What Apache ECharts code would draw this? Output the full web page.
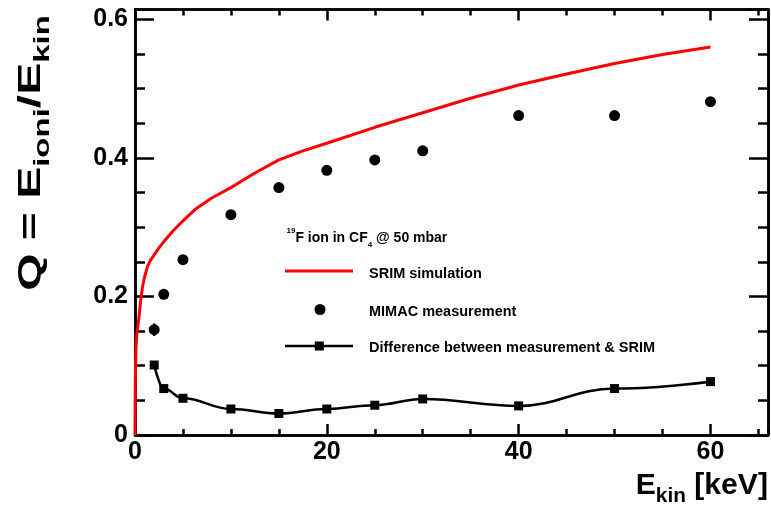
<!DOCTYPE html>
<html><head><meta charset="utf-8">
<script src="https://cdn.jsdelivr.net/npm/echarts@6/dist/echarts.min.js"></script>
<style>html,body{margin:0;padding:0;background:#fff}#c{width:771px;height:512px}</style>
</head><body><div id="c"></div>
<script>
// SRIM simulation curve
const srimE = [0, 0.03, 0.1, 0.2, 0.4, 0.6, 0.8, 1.0, 1.3, 1.6, 2, 2.5, 3, 4, 5, 6.4, 8, 10, 12.5, 15, 17.5, 20, 25, 30, 35, 40, 45, 50, 55, 60];
const srimQ = [0, 0.08, 0.125, 0.147, 0.168, 0.195, 0.215, 0.228, 0.243, 0.252, 0.26, 0.27, 0.279, 0.295, 0.309, 0.327, 0.342, 0.357, 0.378, 0.397, 0.41, 0.421, 0.444, 0.465, 0.486, 0.505, 0.521, 0.536, 0.549, 0.560];
// MIMAC measurement
const mimacE = [2, 3, 5, 10, 15, 20, 25, 30, 40, 50, 60];
const mimacQ = [0.152, 0.203, 0.253, 0.318, 0.357, 0.382, 0.397, 0.410, 0.461, 0.461, 0.481];
const mimacErr = [0.009, 0.007, 0.002, 0, 0, 0, 0, 0, 0, 0, 0];
// Difference between measurement & SRIM
const diffE = [2, 3, 5, 10, 15, 20, 25, 30, 40, 50, 60];
const diffQ = [0.101, 0.067, 0.053, 0.0375, 0.031, 0.0375, 0.043, 0.052, 0.042, 0.067, 0.077];
// axis ranges / ticks
const xRange = [0, 66];
const yRange = [0, 0.614];
const xMajor = 20, xMinor = 5;
const yMajor = 0.2, yMinor = 0.05;

const FONT = '"Liberation Sans", Arial, Helvetica, sans-serif';
const pair = (a, b) => a.map((v, i) => [v, b[i]]);

function xAx(pos, interval, len, labels) {
  return {
    type: 'value', position: pos, min: xRange[0], max: xRange[1], interval: interval,
    axisLine: { show: true, onZero: false, lineStyle: { color: '#000', width: 2.5 } },
    axisTick: { show: true, inside: true, length: len, lineStyle: { color: '#000', width: 2.5 } },
    axisLabel: labels ? { show: true, showMaxLabel: false, margin: 5, color: '#000', fontFamily: FONT, fontWeight: 'bold', fontSize: 25 } : { show: false },
    splitLine: { show: false }
  };
}
function yAx(pos, interval, len, labels) {
  return {
    type: 'value', position: pos, min: yRange[0], max: yRange[1], interval: interval,
    axisLine: { show: true, onZero: false, lineStyle: { color: '#000', width: 2.5 } },
    axisTick: { show: true, inside: true, length: len, lineStyle: { color: '#000', width: 2.5 } },
    axisLabel: labels ? { show: true, showMaxLabel: false, margin: 7, color: '#000', fontFamily: FONT, fontWeight: 'bold', fontSize: 25,
      formatter: v => (Math.abs(v) < 1e-9 ? '0' : v.toFixed(1)) } : { show: false },
    splitLine: { show: false }
  };
}

const chart = echarts.init(document.getElementById('c'), null, { renderer: 'canvas' });
chart.setOption({
  backgroundColor: '#fff',
  animation: false,
  grid: { left: 135, right: 3, top: 9.5, bottom: 77, containLabel: false },
  xAxis: [xAx('bottom', xMajor, 11, true), xAx('bottom', xMinor, 6, false), xAx('top', xMajor, 11, false), xAx('top', xMinor, 6, false)],
  yAxis: [yAx('left', yMajor, 19, true), yAx('left', yMinor, 10, false), yAx('right', yMajor, 19, false), yAx('right', yMinor, 10, false)],
  series: [
    { name: 'SRIM simulation', type: 'line', data: pair(srimE, srimQ), showSymbol: false, symbol: 'none',
      lineStyle: { color: '#ff0000', width: 3 }, itemStyle: { color: '#ff0000' }, z: 2 },
    { name: 'MIMAC error', type: 'custom', data: mimacE.map((v, i) => [v, mimacQ[i], mimacErr[i]]), z: 3,
      renderItem: (params, api) => {
        const x = api.value(0), y = api.value(1), e = api.value(2);
        if (!e) return null;
        const p1 = api.coord([x, y - e]), p2 = api.coord([x, y + e]);
        return { type: 'line', shape: { x1: p1[0], y1: p1[1], x2: p2[0], y2: p2[1] }, style: { stroke: '#000', lineWidth: 2.5 } };
      } },
    { name: 'MIMAC measurement', type: 'scatter', data: pair(mimacE, mimacQ), symbol: 'circle', symbolSize: 11,
      itemStyle: { color: '#000', opacity: 1 }, z: 4 },
    { name: 'Difference between measurement & SRIM', type: 'line', data: pair(diffE, diffQ), smooth: 0.4, smoothMonotone: 'x',
      symbol: 'rect', symbolSize: 9, showSymbol: true, lineStyle: { color: '#000', width: 2.5 }, itemStyle: { color: '#000', opacity: 1 }, z: 4 }
  ],
  graphic: [
    { type: 'text', x: 31, y: 153, rotation: Math.PI / 2, scaleX: 1.5, style: {
        text: '{a|Q = E}{s|ioni}{a|/E}{s|kin}', align: 'center', verticalAlign: 'middle',
        rich: { a: { fontFamily: FONT, fontWeight: 'bold', fontSize: 32, lineHeight: 46, fill: '#000' },
                s: { fontFamily: FONT, fontWeight: 'bold', fontSize: 22, lineHeight: 22, verticalAlign: 'bottom', fill: '#000' } } } },
    { type: 'text', x: 768, y: 486, scaleX: 1.04, style: {
        text: '{a|E}{s|kin}{a| [keV]}', align: 'right', verticalAlign: 'middle',
        rich: { a: { fontFamily: FONT, fontWeight: 'bold', fontSize: 29, lineHeight: 40, fill: '#000' },
                s: { fontFamily: FONT, fontWeight: 'bold', fontSize: 20, lineHeight: 20, verticalAlign: 'bottom', fill: '#000' } } } },
    { type: 'text', x: 286.5, y: 238, style: {
        text: '{p|19}{a|F ion in CF}{d|4}{a| @ 50 mbar}', align: 'left', verticalAlign: 'middle',
        rich: { a: { fontFamily: FONT, fontWeight: 'bold', fontSize: 14, lineHeight: 22, fill: '#000' },
                p: { fontFamily: FONT, fontWeight: 'bold', fontSize: 8, lineHeight: 8, verticalAlign: 'top', fill: '#000' },
                d: { fontFamily: FONT, fontWeight: 'bold', fontSize: 8, lineHeight: 8, verticalAlign: 'bottom', fill: '#000' } } } },
    { type: 'line', shape: { x1: 285, y1: 271, x2: 353, y2: 271 }, style: { stroke: '#ff0000', lineWidth: 3 } },
    { type: 'text', x: 369, y: 274, style: { text: 'SRIM simulation', align: 'left', verticalAlign: 'middle', fontFamily: FONT, fontWeight: 'bold', fontSize: 14.5, fill: '#000' } },
    { type: 'circle', shape: { cx: 320, cy: 309.5, r: 5.5 }, style: { fill: '#000' } },
    { type: 'text', x: 369, y: 311.5, style: { text: 'MIMAC measurement', align: 'left', verticalAlign: 'middle', fontFamily: FONT, fontWeight: 'bold', fontSize: 14.5, fill: '#000' } },
    { type: 'line', shape: { x1: 285, y1: 346, x2: 353, y2: 346 }, style: { stroke: '#000', lineWidth: 2.5 } },
    { type: 'rect', shape: { x: 314.8, y: 341.5, width: 9, height: 9 }, style: { fill: '#000' } },
    { type: 'text', x: 369, y: 348, style: { text: 'Difference between measurement & SRIM', align: 'left', verticalAlign: 'middle', fontFamily: FONT, fontWeight: 'bold', fontSize: 14.5, fill: '#000' } }
  ]
});
</script></body></html>
